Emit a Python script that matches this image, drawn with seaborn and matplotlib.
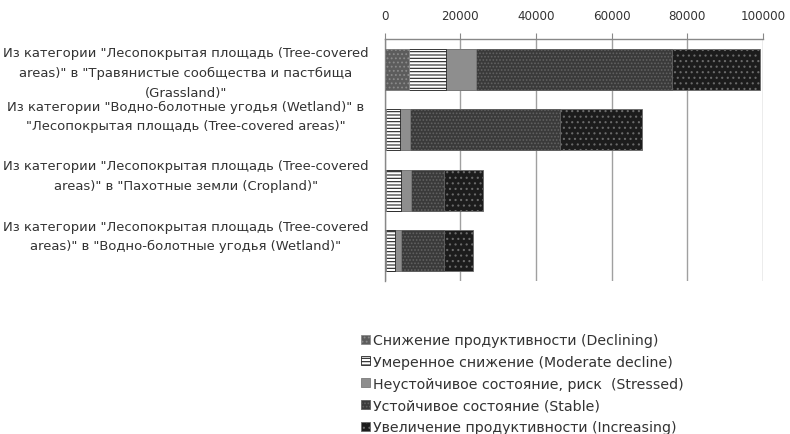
#Stacked horizontal bars: land cover transitions by productivity class

#Import modules
import matplotlib
matplotlib.use('Agg')
import matplotlib.pyplot as plt
import matplotlib.transforms as mtrans
from matplotlib.patches import Patch
import numpy as np
import pandas as pd
import seaborn as sb

#Data
categories = [
    'Из категории "Лесопокрытая площадь (Tree-covered\nareas)" в "Травянистые сообщества и пастбища\n(Grassland)"',
    'Из категории "Водно-болотные угодья (Wetland)" в\n"Лесопокрытая площадь (Tree-covered areas)"',
    'Из категории "Лесопокрытая площадь (Tree-covered\nareas)" в "Пахотные земли (Cropland)"',
    'Из категории "Лесопокрытая площадь (Tree-covered\nareas)" в "Водно-болотные угодья (Wetland)"',
]
series = [
    'Снижение продуктивности (Declining)',
    'Умеренное снижение (Moderate decline)',
    'Неустойчивое состояние, риск  (Stressed)',
    'Устойчивое состояние (Stable)',
    'Увеличение продуктивности (Increasing)',
]
declining = [6500, 400, 500, 400]
moderate = [9750, 3700, 3800, 2400]
stressed = [7850, 2600, 2600, 1500]
stable = [51800, 39700, 8800, 11400]
increasing = [23300, 21500, 10200, 7600]
xticks = [0, 20000, 40000, 60000, 80000, 100000]

#Grey pattern styles (face, hatch, edge)
styles = [
    ('#5c5c5c', '....', '#8a8a8a'),
    ('#ffffff', '-----', '#222222'),
    ('#8e8e8e', '', '#7a7a7a'),
    ('#3a3a3a', '.....', '#626262'),
    ('#1c1c1c', '...', '#6a6a6a'),
]

df = pd.DataFrame({'cat': categories})
values = [declining, moderate, stressed, stable, increasing]
cum = np.cumsum(np.array(values), axis=0)

sb.set_style('white')
plt.rcParams['font.family'] = ['DejaVu Sans']
plt.rcParams['hatch.linewidth'] = 0.8

fig = plt.figure(figsize=(7.9, 4.35), dpi=100)
ax = fig.add_axes([384.5 / 790, 1 - 282 / 435, 378.5 / 790, 242 / 435])

#Draw totals first, shorter cumulative bars on top
for i in range(len(series) - 1, -1, -1):
    face, hatch, edge = styles[i]
    df['val'] = cum[i]
    sb.barplot(data=df, x='val', y='cat', orient='h', ax=ax, color=face,
               saturation=1, width=0.68, hatch=hatch, edgecolor=edge,
               linewidth=0.6, zorder=3)

ax.set_xlim(0, 100000)
ax.set_xticks(xticks)
ax.set_xticklabels([str(t) for t in xticks], fontsize=8.6, color='#333333')
ax.xaxis.tick_top()
ax.tick_params(axis='x', direction='out', length=4, color='#888888', pad=8)
ax.grid(axis='x', color='#a0a0a0', linewidth=1, zorder=0)
ax.set_xlabel('')
ax.set_ylabel('')

ax.set_yticks(range(len(categories)))
ax.set_yticklabels(categories, fontsize=9.45, color='#333333', ha='center',
                   linespacing=1.66)
ax.tick_params(axis='y', length=0, pad=143)
ax.set_yticks([0.5, 1.5, 2.5, 3.5], minor=True)
ax.tick_params(axis='y', which='minor', length=4, direction='out', color='#888888')

#Category labels sit a little above the bars as in the original
shifts = [1, 13.5, 14, 14]
for lab, dy in zip(ax.get_yticklabels(), shifts):
    lab.set_transform(lab.get_transform() +
                      mtrans.ScaledTranslation(0, dy / 72, fig.dpi_scale_trans))

for s in ['right', 'bottom']:
    ax.spines[s].set_visible(False)
for s in ['top', 'left']:
    ax.spines[s].set_color('#888888')
    ax.spines[s].set_linewidth(1)

#Legend below the plot
handles = [Patch(facecolor=f, hatch=h, edgecolor=e, linewidth=0.6) for f, h, e in styles]
fig.legend(handles, series, loc='upper left', bbox_to_anchor=(361 / 790, 1 - 334 / 435),
           frameon=False, fontsize=10.2, handlelength=0.6, handleheight=0.6,
           handletextpad=0.25, labelspacing=0.55, borderaxespad=0, borderpad=0,
           labelcolor='#333333')

fig.savefig('out.png', dpi=100)
